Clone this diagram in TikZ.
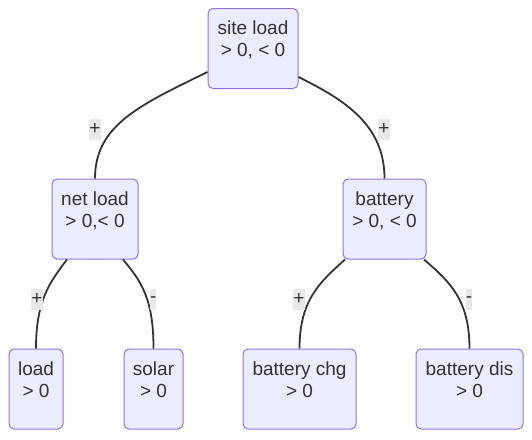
\documentclass[tikz,border=0pt]{standalone}
\usepackage{fontspec}
\setmainfont{Liberation Sans}
\usetikzlibrary{calc}
\definecolor{nodefill}{HTML}{ECECFF}
\definecolor{nodeedge}{HTML}{9370DB}
\definecolor{txt}{HTML}{333333}
\definecolor{lblbg}{HTML}{E8E8E8}
\begin{document}
\begin{tikzpicture}[x=1pt,y=-1pt,
  box/.style={draw=nodeedge, fill=nodefill, rounded corners=5pt, line width=1pt,
    minimum height=80pt, inner sep=0pt, align=center, text=txt,
    font=\fontsize{19}{22}\selectfont},
  lbl/.style={fill=lblbg, text=txt, inner xsep=0pt, inner ysep=0pt,
    minimum height=21pt, font=\fontsize{19}{22}\selectfont},
  edge/.style={draw=txt, line width=1.8pt}]
\useasboundingbox (0,0) rectangle (532,439);
\newcommand{\dn}{\rule[-19pt]{0pt}{0pt}}
\node[box, minimum width=90pt] (sl) at (253,48.5) {site load\\> 0, < 0\dn};
\node[box, minimum width=86pt] (nl) at (95,219) {net load\\> 0,< 0\dn};
\node[box, minimum width=83pt] (bt) at (384.5,219) {battery\\> 0, < 0\dn};
\node[box, minimum width=54pt] (ld) at (36,389) {load\\> 0\dn};
\node[box, minimum width=59pt] (so) at (153.5,389) {solar\\> 0\dn};
\node[box, minimum width=113pt] (bc) at (299.5,389) {battery chg\\> 0\dn};
\node[box, minimum width=107pt] (bd) at (469.5,389) {battery dis\\> 0\dn};

\draw[edge] ($(sl.west)+(0,23.5)$) .. controls (140,105) and (95,125) .. (nl.north);
\draw[edge] ($(sl.east)+(0,28.5)$) .. controls (345,100) and (384.5,125) .. (bt.north);
\draw[edge] ($(nl.south)+(-28,0)$) .. controls (50,282) and (36,300) .. (ld.north);
\draw[edge] ($(nl.south)+(28,0)$) .. controls (142,282) and (153.5,300) .. (so.north);
\draw[edge] ($(bt.south)+(-39.5,0)$) .. controls (320,282) and (299.5,300) .. (bc.north);
\draw[edge] ($(bt.south)+(39.5,0)$) .. controls (450,282) and (469.5,300) .. (bd.north);

\node[lbl] (l1) at (95,129.5) {+};
\node[lbl] (l2) at (384,129.5) {+};
\node[lbl] (l3) at (37,299.5) {+};
\node[lbl] (l4) at (153.3,299.5) {-};
\node[lbl] (l5) at (299,299.5) {+};
\node[lbl] (l6) at (469,299.5) {-};
\end{tikzpicture}
\end{document}
